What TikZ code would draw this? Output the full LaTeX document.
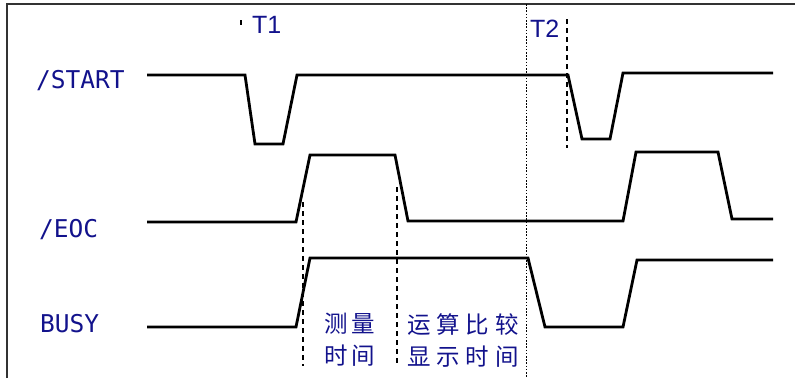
\documentclass[tikz,border=0pt]{standalone}
\usepackage{fontspec}
\newfontfamily\monofnt{DejaVu Sans Mono}
\newfontfamily\sansfnt{Liberation Sans}
\newfontfamily\cjk{Noto Sans CJK SC}
\definecolor{labelblue}{RGB}{18,18,140}
\definecolor{framegray}{RGB}{50,50,50}
\tikzset{
  wave/.style={line width=2.8pt, black, line join=miter},
  sig/.style={font=\monofnt\fontsize{24.5}{24.5}\selectfont, text=labelblue, inner sep=0pt, anchor=base west},
  tlabel/.style={font=\sansfnt\fontsize{25}{25}\selectfont, text=labelblue, inner sep=0pt, anchor=base west},
  cjklabel/.style={font=\cjk\fontsize{23.5}{32}\selectfont, text=labelblue, inner sep=0pt, align=center},
  guide/.style={line width=1.3pt, black, dash pattern=on 5pt off 4pt},
  dotguide/.style={line width=0.8pt, black, dash pattern=on 1.6pt off 1.6pt},
  framel/.style={line width=2pt, framegray}
}
\begin{document}
\begin{tikzpicture}[x=1pt,y=-1pt]
\useasboundingbox (0,0) rectangle (795,378);
% frame
\draw[framel] (7,378) -- (7,4) -- (795,4);
% labels
\node[sig] (lstart) at (36,88) {/START};
\node[sig] (leoc) at (39,237) {/EOC};
\node[sig] (lbusy) at (40,332) {BUSY};
\node[tlabel] (t1) at (252,33) {T1};
\node[tlabel] (t2) at (530,37) {T2};
\node[cjklabel] (c1) at (350,340) {测\hspace{4pt}量\\时\hspace{4pt}间};
\node[cjklabel] (c2) at (463,341) {运\hspace{6pt}算\hspace{6pt}比\hspace{6pt}较\\显\hspace{6pt}示\hspace{6pt}时\hspace{6pt}间};
% guides
\coordinate (d0a) at (526,4); \coordinate (d0b) at (526,378);
\draw[dotguide] (d0a) -- (d0b);
\coordinate (g1a) at (241,20); \coordinate (g1b) at (241,25);
\draw[line width=1.3pt] (g1a) -- (g1b);
\coordinate (g2a) at (567,19); \coordinate (g2b) at (567,148);
\draw[guide] (g2a) -- (g2b);
\coordinate (g3a) at (303,202); \coordinate (g3b) at (303,366);
\draw[guide] (g3a) -- (g3b);
\coordinate (g4a) at (397,187); \coordinate (g4b) at (397,366);
\draw[guide] (g4a) -- (g4b);
% waves
\draw[wave] (147,75) -- (245,75) -- (255,144) -- (283,144) -- (297,75) -- (568,75) -- (582,139) -- (610,139) -- (623,73) -- (773,73);
\draw[wave] (147,222) -- (296,222) -- (310,155) -- (395,155) -- (408,221) -- (623,221) -- (636,152) -- (718,152) -- (732,219) -- (773,219);
\draw[wave] (147,327) -- (296,327) -- (310,258) -- (528,258) -- (545,327) -- (623,327) -- (637,260) -- (773,260);
\end{tikzpicture}
\end{document}
